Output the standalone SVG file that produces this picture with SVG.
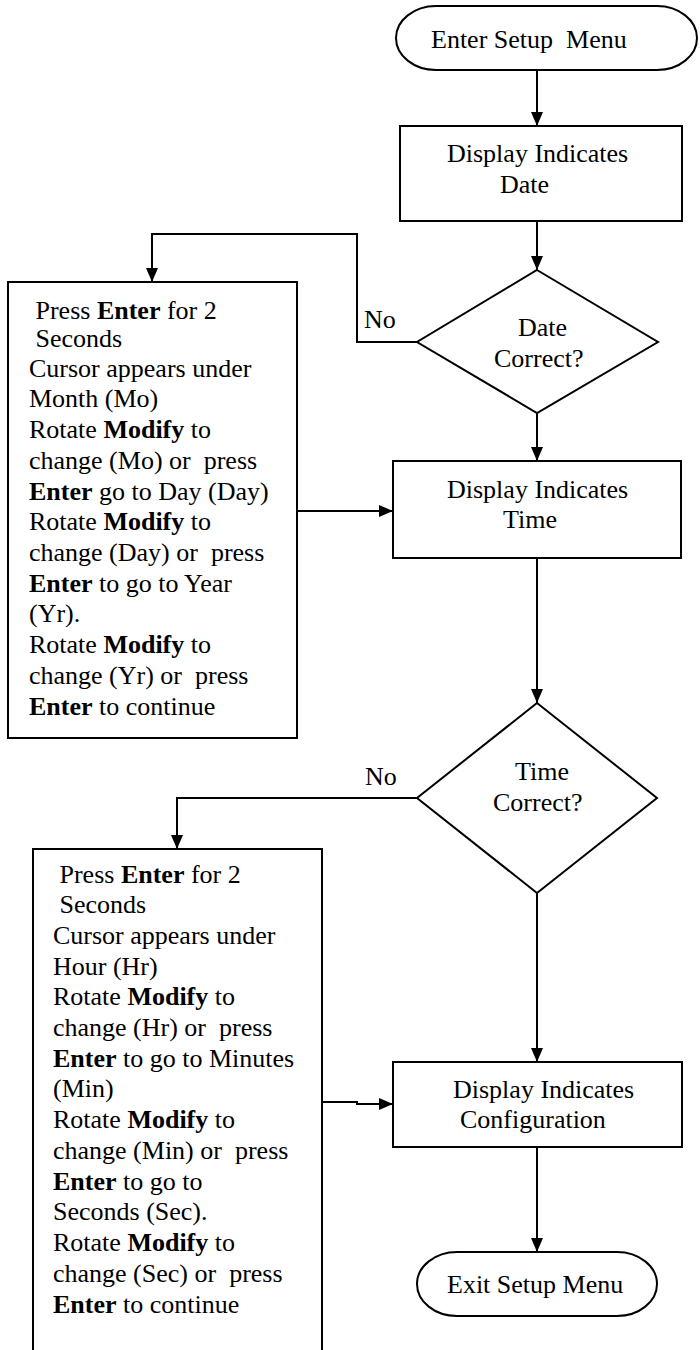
<svg xmlns="http://www.w3.org/2000/svg" width="700" height="1350" viewBox="0 0 700 1350">
<defs>
<style>
.s{fill:#fff;stroke:#000;stroke-width:2}
.c{fill:none;stroke:#000;stroke-width:2}
text{font-family:"Liberation Serif","Times New Roman",serif;font-size:26px;fill:#000}
.b{font-weight:bold}
</style>
<marker id="ah" viewBox="0 0 14 12" refX="14" refY="6" markerWidth="14" markerHeight="12" markerUnits="userSpaceOnUse" orient="auto">
<path d="M0,0 L14,6 L0,12 Z" fill="#000"/>
</marker>
</defs>
<rect width="700" height="1350" fill="#fff"/>
<g id="connectors">
<path class="c" d="M537,70 V126" marker-end="url(#ah)"/>
<path class="c" d="M537,221 V270" marker-end="url(#ah)"/>
<path class="c" d="M417,342 H357 V234 H152 V282" marker-end="url(#ah)"/>
<path class="c" d="M537,413 V461" marker-end="url(#ah)"/>
<path class="c" d="M297,511 H393" marker-end="url(#ah)"/>
<path class="c" d="M537,558 V703" marker-end="url(#ah)"/>
<path class="c" d="M417,798 H177 V849" marker-end="url(#ah)"/>
<path class="c" d="M537,893 V1062" marker-end="url(#ah)"/>
<path class="c" d="M322,1102 H357 V1104 H393" marker-end="url(#ah)"/>
<path class="c" d="M537,1147 V1252" marker-end="url(#ah)"/>
<text x="364" y="328">No</text>
<text x="365" y="785">No</text>
</g>
<g id="start">
<rect class="s" x="396" y="6" width="301" height="64" rx="40" ry="32"/>
<text x="431" y="48" xml:space="preserve">Enter Setup  Menu</text>
</g>
<g id="date-box">
<rect class="s" x="400" y="126" width="282" height="95"/>
<text x="447" y="162">Display Indicates</text>
<text x="500" y="193">Date</text>
</g>
<g id="date-decision">
<polygon class="s" points="537,270 658,342 537,413 417,342"/>
<text x="518" y="336">Date</text>
<text x="494" y="367">Correct?</text>
</g>
<g id="date-set">
<rect class="s" x="8" y="282" width="289" height="456"/>
<text x="29" y="319" xml:space="preserve"> Press <tspan class="b">Enter</tspan> for 2</text>
<text x="29" y="347" xml:space="preserve"> Seconds</text>
<text x="29" y="377">Cursor appears under</text>
<text x="29" y="407">Month (Mo)</text>
<text x="29" y="438">Rotate <tspan class="b">Modify</tspan> to</text>
<text x="29" y="469" xml:space="preserve">change (Mo) or  press</text>
<text x="29" y="500"><tspan class="b">Enter</tspan> go to Day (Day)</text>
<text x="29" y="530">Rotate <tspan class="b">Modify</tspan> to</text>
<text x="29" y="561" xml:space="preserve">change (Day) or  press</text>
<text x="29" y="592"><tspan class="b">Enter</tspan> to go to Year</text>
<text x="29" y="622">(Yr).</text>
<text x="29" y="653">Rotate <tspan class="b">Modify</tspan> to</text>
<text x="29" y="684" xml:space="preserve">change (Yr) or  press</text>
<text x="29" y="715"><tspan class="b">Enter</tspan> to continue</text>
</g>
<g id="time-box">
<rect class="s" x="393" y="461" width="288" height="97"/>
<text x="447" y="498">Display Indicates</text>
<text x="503" y="528">Time</text>
</g>
<g id="time-decision">
<polygon class="s" points="537,703 657,798 537,893 417,798"/>
<text x="515" y="780">Time</text>
<text x="493" y="811">Correct?</text>
</g>
<g id="time-set">
<path class="s" d="M33,1352 V849 H322 V1352"/>
<text x="53" y="883" xml:space="preserve"> Press <tspan class="b">Enter</tspan> for 2</text>
<text x="53" y="913" xml:space="preserve"> Seconds</text>
<text x="53" y="944">Cursor appears under</text>
<text x="53" y="975">Hour (Hr)</text>
<text x="53" y="1005">Rotate <tspan class="b">Modify</tspan> to</text>
<text x="53" y="1036" xml:space="preserve">change (Hr) or  press</text>
<text x="53" y="1067"><tspan class="b">Enter</tspan> to go to Minutes</text>
<text x="53" y="1097">(Min)</text>
<text x="53" y="1128">Rotate <tspan class="b">Modify</tspan> to</text>
<text x="53" y="1159" xml:space="preserve">change (Min) or  press</text>
<text x="53" y="1190"><tspan class="b">Enter</tspan> to go to</text>
<text x="53" y="1220">Seconds (Sec).</text>
<text x="53" y="1251">Rotate <tspan class="b">Modify</tspan> to</text>
<text x="53" y="1282" xml:space="preserve">change (Sec) or  press</text>
<text x="53" y="1313"><tspan class="b">Enter</tspan> to continue</text>
</g>
<g id="config-box">
<rect class="s" x="393" y="1062" width="289" height="85"/>
<text x="453" y="1098">Display Indicates</text>
<text x="460" y="1128">Configuration</text>
</g>
<g id="exit">
<rect class="s" x="417" y="1252" width="240" height="64" rx="40" ry="32"/>
<text x="447" y="1293">Exit Setup Menu</text>
</g>
</svg>
